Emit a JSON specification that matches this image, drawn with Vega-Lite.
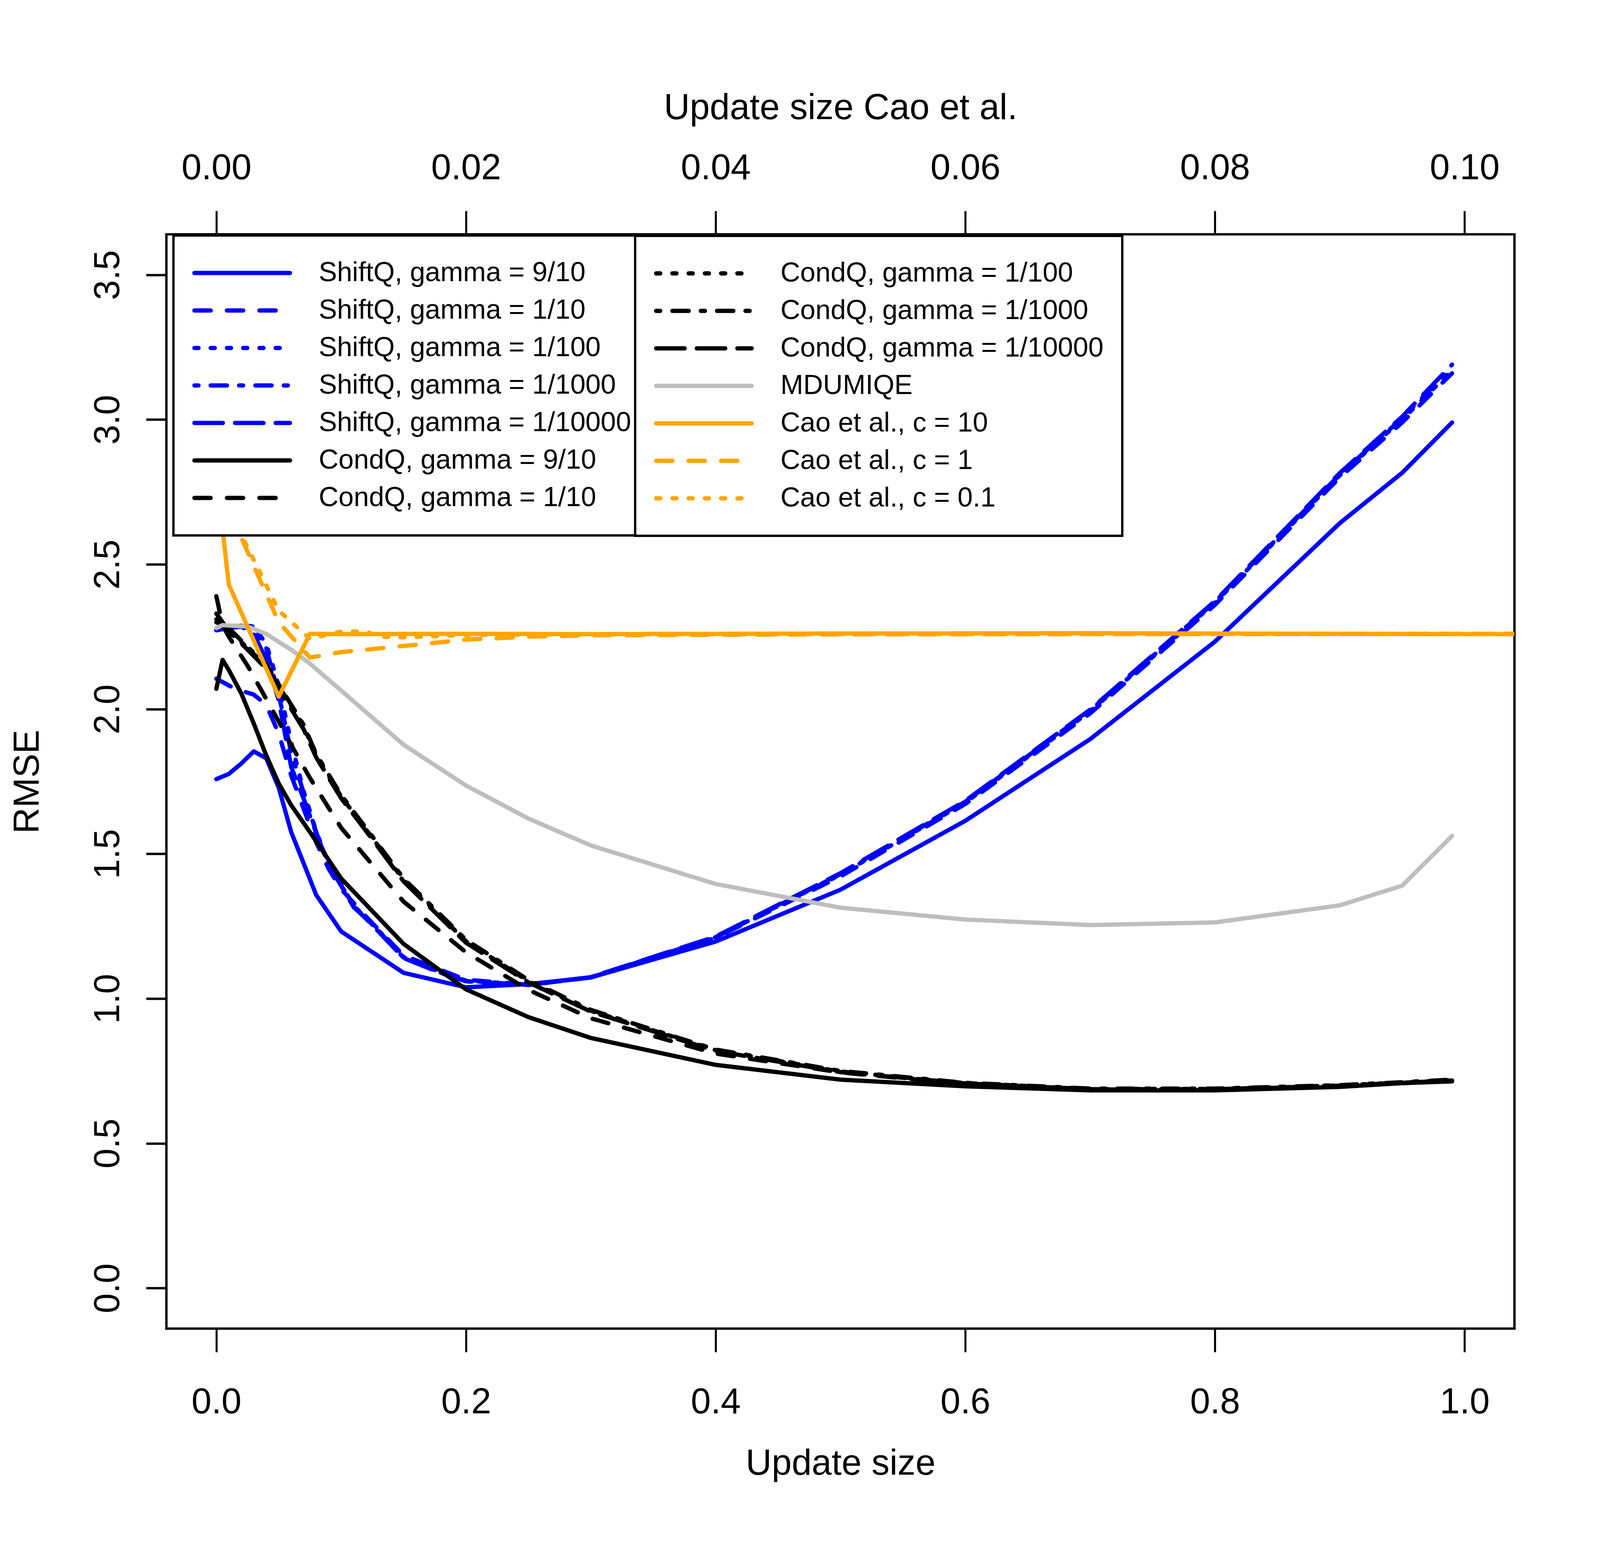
{
  "$schema": "https://vega.github.io/schema/vega-lite/v6.json",
  "width": 3451,
  "height": 2802,
  "autosize": {"type": "none"},
  "padding": {"left": 426, "top": 600, "right": 219, "bottom": 613},
  "background": "white",
  "config": {
    "view": {"stroke": "black", "strokeWidth": 6},
    "axis": {
      "grid": false, "domain": false,
      "tickColor": "black", "tickWidth": 5.2, "tickSize": 60,
      "labelFont": "Liberation Sans", "labelFontSize": 92, "labelColor": "black", "labelLimit": 1000,
      "titleFont": "Liberation Sans", "titleFontSize": 92, "titleFontWeight": "normal", "titleColor": "black", "titleLimit": 3000,
      "labelFlush": false, "labelOverlap": false,
      "labelBaseline": "alphabetic", "titleBaseline": "alphabetic", "titleAlign": "center"
    },
    "legend": {
      "orient": "none",
      "labelFont": "Liberation Sans", "labelFontSize": 70, "labelColor": "black", "labelLimit": 3000,
      "symbolType": "stroke", "symbolSize": 59780, "symbolStrokeWidth": 11,
      "clipHeight": 96, "rowPadding": 0, "labelOffset": 68, "padding": 48,
      "strokeColor": "black", "fillColor": "white"
    }
  },
  "datasets": {
    "left": [
      {"series": "ShiftQ, gamma = 9/10", "size": 0, "rmse": 1.758},
      {"series": "ShiftQ, gamma = 9/10", "size": 0.01, "rmse": 1.776},
      {"series": "ShiftQ, gamma = 9/10", "size": 0.02, "rmse": 1.812},
      {"series": "ShiftQ, gamma = 9/10", "size": 0.03, "rmse": 1.854},
      {"series": "ShiftQ, gamma = 9/10", "size": 0.04, "rmse": 1.83},
      {"series": "ShiftQ, gamma = 9/10", "size": 0.05, "rmse": 1.728},
      {"series": "ShiftQ, gamma = 9/10", "size": 0.06, "rmse": 1.575},
      {"series": "ShiftQ, gamma = 9/10", "size": 0.08, "rmse": 1.358},
      {"series": "ShiftQ, gamma = 9/10", "size": 0.1, "rmse": 1.232},
      {"series": "ShiftQ, gamma = 9/10", "size": 0.15, "rmse": 1.089},
      {"series": "ShiftQ, gamma = 9/10", "size": 0.2, "rmse": 1.039},
      {"series": "ShiftQ, gamma = 9/10", "size": 0.25, "rmse": 1.05},
      {"series": "ShiftQ, gamma = 9/10", "size": 0.3, "rmse": 1.073},
      {"series": "ShiftQ, gamma = 9/10", "size": 0.4, "rmse": 1.197},
      {"series": "ShiftQ, gamma = 9/10", "size": 0.5, "rmse": 1.376},
      {"series": "ShiftQ, gamma = 9/10", "size": 0.6, "rmse": 1.614},
      {"series": "ShiftQ, gamma = 9/10", "size": 0.7, "rmse": 1.896},
      {"series": "ShiftQ, gamma = 9/10", "size": 0.8, "rmse": 2.233},
      {"series": "ShiftQ, gamma = 9/10", "size": 0.9, "rmse": 2.642},
      {"series": "ShiftQ, gamma = 9/10", "size": 0.95, "rmse": 2.816},
      {"series": "ShiftQ, gamma = 9/10", "size": 0.99, "rmse": 2.99},

      {"series": "ShiftQ, gamma = 1/10", "size": 0, "rmse": 2.105},
      {"series": "ShiftQ, gamma = 1/10", "size": 0.015, "rmse": 2.07},
      {"series": "ShiftQ, gamma = 1/10", "size": 0.03, "rmse": 2.05},
      {"series": "ShiftQ, gamma = 1/10", "size": 0.04, "rmse": 2.015},
      {"series": "ShiftQ, gamma = 1/10", "size": 0.045, "rmse": 1.965},
      {"series": "ShiftQ, gamma = 1/10", "size": 0.05, "rmse": 1.915},
      {"series": "ShiftQ, gamma = 1/10", "size": 0.06, "rmse": 1.77},
      {"series": "ShiftQ, gamma = 1/10", "size": 0.07, "rmse": 1.655},
      {"series": "ShiftQ, gamma = 1/10", "size": 0.08, "rmse": 1.54},
      {"series": "ShiftQ, gamma = 1/10", "size": 0.09, "rmse": 1.448},
      {"series": "ShiftQ, gamma = 1/10", "size": 0.1, "rmse": 1.378},
      {"series": "ShiftQ, gamma = 1/10", "size": 0.12, "rmse": 1.283},
      {"series": "ShiftQ, gamma = 1/10", "size": 0.15, "rmse": 1.149},
      {"series": "ShiftQ, gamma = 1/10", "size": 0.2, "rmse": 1.065},
      {"series": "ShiftQ, gamma = 1/10", "size": 0.25, "rmse": 1.048},
      {"series": "ShiftQ, gamma = 1/10", "size": 0.3, "rmse": 1.073},
      {"series": "ShiftQ, gamma = 1/10", "size": 0.4, "rmse": 1.21},
      {"series": "ShiftQ, gamma = 1/10", "size": 0.5, "rmse": 1.422},
      {"series": "ShiftQ, gamma = 1/10", "size": 0.6, "rmse": 1.672},
      {"series": "ShiftQ, gamma = 1/10", "size": 0.7, "rmse": 1.985},
      {"series": "ShiftQ, gamma = 1/10", "size": 0.8, "rmse": 2.36},
      {"series": "ShiftQ, gamma = 1/10", "size": 0.9, "rmse": 2.8},
      {"series": "ShiftQ, gamma = 1/10", "size": 0.95, "rmse": 2.99},
      {"series": "ShiftQ, gamma = 1/10", "size": 0.99, "rmse": 3.16},

      {"series": "ShiftQ, gamma = 1/100", "size": 0, "rmse": 2.275},
      {"series": "ShiftQ, gamma = 1/100", "size": 0.01, "rmse": 2.285},
      {"series": "ShiftQ, gamma = 1/100", "size": 0.02, "rmse": 2.29},
      {"series": "ShiftQ, gamma = 1/100", "size": 0.03, "rmse": 2.285},
      {"series": "ShiftQ, gamma = 1/100", "size": 0.04, "rmse": 2.225},
      {"series": "ShiftQ, gamma = 1/100", "size": 0.05, "rmse": 2.08},
      {"series": "ShiftQ, gamma = 1/100", "size": 0.06, "rmse": 1.885},
      {"series": "ShiftQ, gamma = 1/100", "size": 0.07, "rmse": 1.715},
      {"series": "ShiftQ, gamma = 1/100", "size": 0.08, "rmse": 1.578},
      {"series": "ShiftQ, gamma = 1/100", "size": 0.09, "rmse": 1.465},
      {"series": "ShiftQ, gamma = 1/100", "size": 0.1, "rmse": 1.395},
      {"series": "ShiftQ, gamma = 1/100", "size": 0.11, "rmse": 1.32},
      {"series": "ShiftQ, gamma = 1/100", "size": 0.12, "rmse": 1.28},
      {"series": "ShiftQ, gamma = 1/100", "size": 0.14, "rmse": 1.19},
      {"series": "ShiftQ, gamma = 1/100", "size": 0.15, "rmse": 1.143},
      {"series": "ShiftQ, gamma = 1/100", "size": 0.18, "rmse": 1.09},
      {"series": "ShiftQ, gamma = 1/100", "size": 0.2, "rmse": 1.062},
      {"series": "ShiftQ, gamma = 1/100", "size": 0.25, "rmse": 1.048},
      {"series": "ShiftQ, gamma = 1/100", "size": 0.3, "rmse": 1.074},
      {"series": "ShiftQ, gamma = 1/100", "size": 0.4, "rmse": 1.212},
      {"series": "ShiftQ, gamma = 1/100", "size": 0.5, "rmse": 1.428},
      {"series": "ShiftQ, gamma = 1/100", "size": 0.6, "rmse": 1.677},
      {"series": "ShiftQ, gamma = 1/100", "size": 0.7, "rmse": 1.992},
      {"series": "ShiftQ, gamma = 1/100", "size": 0.8, "rmse": 2.367},
      {"series": "ShiftQ, gamma = 1/100", "size": 0.9, "rmse": 2.807},
      {"series": "ShiftQ, gamma = 1/100", "size": 0.95, "rmse": 3.0},
      {"series": "ShiftQ, gamma = 1/100", "size": 0.99, "rmse": 3.17},

      {"series": "ShiftQ, gamma = 1/1000", "size": 0, "rmse": 2.275},
      {"series": "ShiftQ, gamma = 1/1000", "size": 0.01, "rmse": 2.283},
      {"series": "ShiftQ, gamma = 1/1000", "size": 0.02, "rmse": 2.288},
      {"series": "ShiftQ, gamma = 1/1000", "size": 0.03, "rmse": 2.275},
      {"series": "ShiftQ, gamma = 1/1000", "size": 0.04, "rmse": 2.21},
      {"series": "ShiftQ, gamma = 1/1000", "size": 0.05, "rmse": 2.05},
      {"series": "ShiftQ, gamma = 1/1000", "size": 0.06, "rmse": 1.85},
      {"series": "ShiftQ, gamma = 1/1000", "size": 0.07, "rmse": 1.71},
      {"series": "ShiftQ, gamma = 1/1000", "size": 0.08, "rmse": 1.575},
      {"series": "ShiftQ, gamma = 1/1000", "size": 0.09, "rmse": 1.462},
      {"series": "ShiftQ, gamma = 1/1000", "size": 0.1, "rmse": 1.392},
      {"series": "ShiftQ, gamma = 1/1000", "size": 0.11, "rmse": 1.318},
      {"series": "ShiftQ, gamma = 1/1000", "size": 0.12, "rmse": 1.278},
      {"series": "ShiftQ, gamma = 1/1000", "size": 0.14, "rmse": 1.188},
      {"series": "ShiftQ, gamma = 1/1000", "size": 0.15, "rmse": 1.141},
      {"series": "ShiftQ, gamma = 1/1000", "size": 0.18, "rmse": 1.089},
      {"series": "ShiftQ, gamma = 1/1000", "size": 0.2, "rmse": 1.06},
      {"series": "ShiftQ, gamma = 1/1000", "size": 0.25, "rmse": 1.047},
      {"series": "ShiftQ, gamma = 1/1000", "size": 0.3, "rmse": 1.073},
      {"series": "ShiftQ, gamma = 1/1000", "size": 0.4, "rmse": 1.212},
      {"series": "ShiftQ, gamma = 1/1000", "size": 0.5, "rmse": 1.43},
      {"series": "ShiftQ, gamma = 1/1000", "size": 0.6, "rmse": 1.68},
      {"series": "ShiftQ, gamma = 1/1000", "size": 0.7, "rmse": 1.995},
      {"series": "ShiftQ, gamma = 1/1000", "size": 0.8, "rmse": 2.37},
      {"series": "ShiftQ, gamma = 1/1000", "size": 0.9, "rmse": 2.81},
      {"series": "ShiftQ, gamma = 1/1000", "size": 0.95, "rmse": 3.005},
      {"series": "ShiftQ, gamma = 1/1000", "size": 0.99, "rmse": 3.18},

      {"series": "ShiftQ, gamma = 1/10000", "size": 0, "rmse": 2.272},
      {"series": "ShiftQ, gamma = 1/10000", "size": 0.01, "rmse": 2.28},
      {"series": "ShiftQ, gamma = 1/10000", "size": 0.02, "rmse": 2.285},
      {"series": "ShiftQ, gamma = 1/10000", "size": 0.03, "rmse": 2.26},
      {"series": "ShiftQ, gamma = 1/10000", "size": 0.04, "rmse": 2.17},
      {"series": "ShiftQ, gamma = 1/10000", "size": 0.05, "rmse": 2.03},
      {"series": "ShiftQ, gamma = 1/10000", "size": 0.06, "rmse": 1.8},
      {"series": "ShiftQ, gamma = 1/10000", "size": 0.07, "rmse": 1.69},
      {"series": "ShiftQ, gamma = 1/10000", "size": 0.08, "rmse": 1.572},
      {"series": "ShiftQ, gamma = 1/10000", "size": 0.09, "rmse": 1.46},
      {"series": "ShiftQ, gamma = 1/10000", "size": 0.1, "rmse": 1.39},
      {"series": "ShiftQ, gamma = 1/10000", "size": 0.11, "rmse": 1.316},
      {"series": "ShiftQ, gamma = 1/10000", "size": 0.12, "rmse": 1.276},
      {"series": "ShiftQ, gamma = 1/10000", "size": 0.14, "rmse": 1.186},
      {"series": "ShiftQ, gamma = 1/10000", "size": 0.15, "rmse": 1.14},
      {"series": "ShiftQ, gamma = 1/10000", "size": 0.18, "rmse": 1.088},
      {"series": "ShiftQ, gamma = 1/10000", "size": 0.2, "rmse": 1.06},
      {"series": "ShiftQ, gamma = 1/10000", "size": 0.25, "rmse": 1.047},
      {"series": "ShiftQ, gamma = 1/10000", "size": 0.3, "rmse": 1.074},
      {"series": "ShiftQ, gamma = 1/10000", "size": 0.4, "rmse": 1.214},
      {"series": "ShiftQ, gamma = 1/10000", "size": 0.5, "rmse": 1.433},
      {"series": "ShiftQ, gamma = 1/10000", "size": 0.6, "rmse": 1.683},
      {"series": "ShiftQ, gamma = 1/10000", "size": 0.7, "rmse": 1.998},
      {"series": "ShiftQ, gamma = 1/10000", "size": 0.8, "rmse": 2.373},
      {"series": "ShiftQ, gamma = 1/10000", "size": 0.9, "rmse": 2.815},
      {"series": "ShiftQ, gamma = 1/10000", "size": 0.95, "rmse": 3.01},
      {"series": "ShiftQ, gamma = 1/10000", "size": 0.99, "rmse": 3.19},

      {"series": "CondQ, gamma = 9/10", "size": 0, "rmse": 2.07},
      {"series": "CondQ, gamma = 9/10", "size": 0.005, "rmse": 2.17},
      {"series": "CondQ, gamma = 9/10", "size": 0.01, "rmse": 2.135},
      {"series": "CondQ, gamma = 9/10", "size": 0.02, "rmse": 2.054},
      {"series": "CondQ, gamma = 9/10", "size": 0.03, "rmse": 1.95},
      {"series": "CondQ, gamma = 9/10", "size": 0.04, "rmse": 1.84},
      {"series": "CondQ, gamma = 9/10", "size": 0.05, "rmse": 1.743},
      {"series": "CondQ, gamma = 9/10", "size": 0.06, "rmse": 1.668},
      {"series": "CondQ, gamma = 9/10", "size": 0.075, "rmse": 1.575},
      {"series": "CondQ, gamma = 9/10", "size": 0.1, "rmse": 1.415},
      {"series": "CondQ, gamma = 9/10", "size": 0.15, "rmse": 1.189},
      {"series": "CondQ, gamma = 9/10", "size": 0.2, "rmse": 1.032},
      {"series": "CondQ, gamma = 9/10", "size": 0.25, "rmse": 0.936},
      {"series": "CondQ, gamma = 9/10", "size": 0.3, "rmse": 0.864},
      {"series": "CondQ, gamma = 9/10", "size": 0.4, "rmse": 0.771},
      {"series": "CondQ, gamma = 9/10", "size": 0.5, "rmse": 0.72},
      {"series": "CondQ, gamma = 9/10", "size": 0.6, "rmse": 0.697},
      {"series": "CondQ, gamma = 9/10", "size": 0.7, "rmse": 0.683},
      {"series": "CondQ, gamma = 9/10", "size": 0.8, "rmse": 0.683},
      {"series": "CondQ, gamma = 9/10", "size": 0.9, "rmse": 0.695},
      {"series": "CondQ, gamma = 9/10", "size": 0.95, "rmse": 0.708},
      {"series": "CondQ, gamma = 9/10", "size": 0.99, "rmse": 0.714},

      {"series": "CondQ, gamma = 1/10", "size": 0, "rmse": 2.39},
      {"series": "CondQ, gamma = 1/10", "size": 0.005, "rmse": 2.29},
      {"series": "CondQ, gamma = 1/10", "size": 0.01, "rmse": 2.25},
      {"series": "CondQ, gamma = 1/10", "size": 0.025, "rmse": 2.15},
      {"series": "CondQ, gamma = 1/10", "size": 0.04, "rmse": 2.035},
      {"series": "CondQ, gamma = 1/10", "size": 0.05, "rmse": 1.957},
      {"series": "CondQ, gamma = 1/10", "size": 0.06, "rmse": 1.876},
      {"series": "CondQ, gamma = 1/10", "size": 0.075, "rmse": 1.762},
      {"series": "CondQ, gamma = 1/10", "size": 0.1, "rmse": 1.59},
      {"series": "CondQ, gamma = 1/10", "size": 0.15, "rmse": 1.335},
      {"series": "CondQ, gamma = 1/10", "size": 0.2, "rmse": 1.16},
      {"series": "CondQ, gamma = 1/10", "size": 0.25, "rmse": 1.03},
      {"series": "CondQ, gamma = 1/10", "size": 0.3, "rmse": 0.932},
      {"series": "CondQ, gamma = 1/10", "size": 0.4, "rmse": 0.81},
      {"series": "CondQ, gamma = 1/10", "size": 0.5, "rmse": 0.745},
      {"series": "CondQ, gamma = 1/10", "size": 0.6, "rmse": 0.705},
      {"series": "CondQ, gamma = 1/10", "size": 0.7, "rmse": 0.686},
      {"series": "CondQ, gamma = 1/10", "size": 0.8, "rmse": 0.686},
      {"series": "CondQ, gamma = 1/10", "size": 0.9, "rmse": 0.698},
      {"series": "CondQ, gamma = 1/10", "size": 0.95, "rmse": 0.708},
      {"series": "CondQ, gamma = 1/10", "size": 0.99, "rmse": 0.716}
    ],
    "right": [
      {"series": "CondQ, gamma = 1/100", "size": 0, "rmse": 2.3},
      {"series": "CondQ, gamma = 1/100", "size": 0.005, "rmse": 2.29},
      {"series": "CondQ, gamma = 1/100", "size": 0.01, "rmse": 2.275},
      {"series": "CondQ, gamma = 1/100", "size": 0.025, "rmse": 2.21},
      {"series": "CondQ, gamma = 1/100", "size": 0.04, "rmse": 2.15},
      {"series": "CondQ, gamma = 1/100", "size": 0.05, "rmse": 2.08},
      {"series": "CondQ, gamma = 1/100", "size": 0.06, "rmse": 2.01},
      {"series": "CondQ, gamma = 1/100", "size": 0.07, "rmse": 1.94},
      {"series": "CondQ, gamma = 1/100", "size": 0.08, "rmse": 1.84},
      {"series": "CondQ, gamma = 1/100", "size": 0.1, "rmse": 1.698},
      {"series": "CondQ, gamma = 1/100", "size": 0.125, "rmse": 1.555},
      {"series": "CondQ, gamma = 1/100", "size": 0.15, "rmse": 1.41},
      {"series": "CondQ, gamma = 1/100", "size": 0.2, "rmse": 1.198},
      {"series": "CondQ, gamma = 1/100", "size": 0.25, "rmse": 1.06},
      {"series": "CondQ, gamma = 1/100", "size": 0.3, "rmse": 0.958},
      {"series": "CondQ, gamma = 1/100", "size": 0.35, "rmse": 0.89},
      {"series": "CondQ, gamma = 1/100", "size": 0.4, "rmse": 0.822},
      {"series": "CondQ, gamma = 1/100", "size": 0.5, "rmse": 0.748},
      {"series": "CondQ, gamma = 1/100", "size": 0.6, "rmse": 0.708},
      {"series": "CondQ, gamma = 1/100", "size": 0.7, "rmse": 0.688},
      {"series": "CondQ, gamma = 1/100", "size": 0.8, "rmse": 0.688},
      {"series": "CondQ, gamma = 1/100", "size": 0.9, "rmse": 0.7},
      {"series": "CondQ, gamma = 1/100", "size": 0.95, "rmse": 0.71},
      {"series": "CondQ, gamma = 1/100", "size": 0.99, "rmse": 0.718},

      {"series": "CondQ, gamma = 1/1000", "size": 0, "rmse": 2.31},
      {"series": "CondQ, gamma = 1/1000", "size": 0.005, "rmse": 2.295},
      {"series": "CondQ, gamma = 1/1000", "size": 0.01, "rmse": 2.28},
      {"series": "CondQ, gamma = 1/1000", "size": 0.025, "rmse": 2.215},
      {"series": "CondQ, gamma = 1/1000", "size": 0.04, "rmse": 2.155},
      {"series": "CondQ, gamma = 1/1000", "size": 0.05, "rmse": 2.085},
      {"series": "CondQ, gamma = 1/1000", "size": 0.06, "rmse": 2.015},
      {"series": "CondQ, gamma = 1/1000", "size": 0.07, "rmse": 1.945},
      {"series": "CondQ, gamma = 1/1000", "size": 0.08, "rmse": 1.845},
      {"series": "CondQ, gamma = 1/1000", "size": 0.1, "rmse": 1.703},
      {"series": "CondQ, gamma = 1/1000", "size": 0.125, "rmse": 1.56},
      {"series": "CondQ, gamma = 1/1000", "size": 0.15, "rmse": 1.415},
      {"series": "CondQ, gamma = 1/1000", "size": 0.2, "rmse": 1.203},
      {"series": "CondQ, gamma = 1/1000", "size": 0.25, "rmse": 1.064},
      {"series": "CondQ, gamma = 1/1000", "size": 0.3, "rmse": 0.961},
      {"series": "CondQ, gamma = 1/1000", "size": 0.35, "rmse": 0.892},
      {"series": "CondQ, gamma = 1/1000", "size": 0.4, "rmse": 0.824},
      {"series": "CondQ, gamma = 1/1000", "size": 0.5, "rmse": 0.75},
      {"series": "CondQ, gamma = 1/1000", "size": 0.6, "rmse": 0.709},
      {"series": "CondQ, gamma = 1/1000", "size": 0.7, "rmse": 0.689},
      {"series": "CondQ, gamma = 1/1000", "size": 0.8, "rmse": 0.689},
      {"series": "CondQ, gamma = 1/1000", "size": 0.9, "rmse": 0.701},
      {"series": "CondQ, gamma = 1/1000", "size": 0.95, "rmse": 0.711},
      {"series": "CondQ, gamma = 1/1000", "size": 0.99, "rmse": 0.72},

      {"series": "CondQ, gamma = 1/10000", "size": 0, "rmse": 2.33},
      {"series": "CondQ, gamma = 1/10000", "size": 0.005, "rmse": 2.3},
      {"series": "CondQ, gamma = 1/10000", "size": 0.01, "rmse": 2.27},
      {"series": "CondQ, gamma = 1/10000", "size": 0.025, "rmse": 2.205},
      {"series": "CondQ, gamma = 1/10000", "size": 0.04, "rmse": 2.14},
      {"series": "CondQ, gamma = 1/10000", "size": 0.05, "rmse": 2.07},
      {"series": "CondQ, gamma = 1/10000", "size": 0.06, "rmse": 2.0},
      {"series": "CondQ, gamma = 1/10000", "size": 0.07, "rmse": 1.93},
      {"series": "CondQ, gamma = 1/10000", "size": 0.08, "rmse": 1.833},
      {"series": "CondQ, gamma = 1/10000", "size": 0.1, "rmse": 1.692},
      {"series": "CondQ, gamma = 1/10000", "size": 0.125, "rmse": 1.55},
      {"series": "CondQ, gamma = 1/10000", "size": 0.15, "rmse": 1.405},
      {"series": "CondQ, gamma = 1/10000", "size": 0.2, "rmse": 1.193},
      {"series": "CondQ, gamma = 1/10000", "size": 0.25, "rmse": 1.056},
      {"series": "CondQ, gamma = 1/10000", "size": 0.3, "rmse": 0.955},
      {"series": "CondQ, gamma = 1/10000", "size": 0.35, "rmse": 0.887},
      {"series": "CondQ, gamma = 1/10000", "size": 0.4, "rmse": 0.819},
      {"series": "CondQ, gamma = 1/10000", "size": 0.5, "rmse": 0.746},
      {"series": "CondQ, gamma = 1/10000", "size": 0.6, "rmse": 0.707},
      {"series": "CondQ, gamma = 1/10000", "size": 0.7, "rmse": 0.687},
      {"series": "CondQ, gamma = 1/10000", "size": 0.8, "rmse": 0.687},
      {"series": "CondQ, gamma = 1/10000", "size": 0.9, "rmse": 0.699},
      {"series": "CondQ, gamma = 1/10000", "size": 0.95, "rmse": 0.709},
      {"series": "CondQ, gamma = 1/10000", "size": 0.99, "rmse": 0.717},

      {"series": "MDUMIQE", "size": 0, "rmse": 2.28},
      {"series": "MDUMIQE", "size": 0.005, "rmse": 2.29},
      {"series": "MDUMIQE", "size": 0.025, "rmse": 2.285},
      {"series": "MDUMIQE", "size": 0.04, "rmse": 2.26},
      {"series": "MDUMIQE", "size": 0.05, "rmse": 2.232},
      {"series": "MDUMIQE", "size": 0.06, "rmse": 2.205},
      {"series": "MDUMIQE", "size": 0.075, "rmse": 2.157},
      {"series": "MDUMIQE", "size": 0.1, "rmse": 2.064},
      {"series": "MDUMIQE", "size": 0.15, "rmse": 1.877},
      {"series": "MDUMIQE", "size": 0.2, "rmse": 1.736},
      {"series": "MDUMIQE", "size": 0.25, "rmse": 1.622},
      {"series": "MDUMIQE", "size": 0.3, "rmse": 1.529},
      {"series": "MDUMIQE", "size": 0.4, "rmse": 1.396},
      {"series": "MDUMIQE", "size": 0.5, "rmse": 1.314},
      {"series": "MDUMIQE", "size": 0.6, "rmse": 1.273},
      {"series": "MDUMIQE", "size": 0.7, "rmse": 1.254},
      {"series": "MDUMIQE", "size": 0.8, "rmse": 1.263},
      {"series": "MDUMIQE", "size": 0.9, "rmse": 1.322},
      {"series": "MDUMIQE", "size": 0.95, "rmse": 1.39},
      {"series": "MDUMIQE", "size": 0.99, "rmse": 1.562},

      {"series": "Cao et al., c = 10", "size": 0, "rmse": 2.81},
      {"series": "Cao et al., c = 10", "size": 0.01, "rmse": 2.43},
      {"series": "Cao et al., c = 10", "size": 0.05, "rmse": 2.043},
      {"series": "Cao et al., c = 10", "size": 0.075, "rmse": 2.26},
      {"series": "Cao et al., c = 10", "size": 0.1, "rmse": 2.259},
      {"series": "Cao et al., c = 10", "size": 0.2, "rmse": 2.26},
      {"series": "Cao et al., c = 10", "size": 0.3, "rmse": 2.259},
      {"series": "Cao et al., c = 10", "size": 0.5, "rmse": 2.261},
      {"series": "Cao et al., c = 10", "size": 0.7, "rmse": 2.262},
      {"series": "Cao et al., c = 10", "size": 0.9, "rmse": 2.26},
      {"series": "Cao et al., c = 10", "size": 1.0, "rmse": 2.259},
      {"series": "Cao et al., c = 10", "size": 1.2, "rmse": 2.259},

      {"series": "Cao et al., c = 1", "size": 0, "rmse": 2.79},
      {"series": "Cao et al., c = 1", "size": 0.01, "rmse": 2.69},
      {"series": "Cao et al., c = 1", "size": 0.05, "rmse": 2.3},
      {"series": "Cao et al., c = 1", "size": 0.075, "rmse": 2.178},
      {"series": "Cao et al., c = 1", "size": 0.1, "rmse": 2.197},
      {"series": "Cao et al., c = 1", "size": 0.15, "rmse": 2.218},
      {"series": "Cao et al., c = 1", "size": 0.2, "rmse": 2.24},
      {"series": "Cao et al., c = 1", "size": 0.25, "rmse": 2.25},
      {"series": "Cao et al., c = 1", "size": 0.3, "rmse": 2.255},
      {"series": "Cao et al., c = 1", "size": 0.5, "rmse": 2.258},
      {"series": "Cao et al., c = 1", "size": 1.0, "rmse": 2.26},
      {"series": "Cao et al., c = 1", "size": 1.2, "rmse": 2.26},

      {"series": "Cao et al., c = 0.1", "size": 0, "rmse": 2.78},
      {"series": "Cao et al., c = 0.1", "size": 0.01, "rmse": 2.69},
      {"series": "Cao et al., c = 0.1", "size": 0.05, "rmse": 2.34},
      {"series": "Cao et al., c = 0.1", "size": 0.075, "rmse": 2.243},
      {"series": "Cao et al., c = 0.1", "size": 0.1, "rmse": 2.268},
      {"series": "Cao et al., c = 0.1", "size": 0.12, "rmse": 2.268},
      {"series": "Cao et al., c = 0.1", "size": 0.13, "rmse": 2.25},
      {"series": "Cao et al., c = 0.1", "size": 0.15, "rmse": 2.248},
      {"series": "Cao et al., c = 0.1", "size": 0.2, "rmse": 2.256},
      {"series": "Cao et al., c = 0.1", "size": 0.3, "rmse": 2.258},
      {"series": "Cao et al., c = 0.1", "size": 0.5, "rmse": 2.259},
      {"series": "Cao et al., c = 0.1", "size": 1.0, "rmse": 2.26},
      {"series": "Cao et al., c = 0.1", "size": 1.2, "rmse": 2.26}
    ]
  },
  "layer": [
    {
      "data": {"name": "left"},
      "mark": {"type": "line", "clip": true, "strokeWidth": 11, "strokeCap": "round", "strokeJoin": "round"},
      "encoding": {
        "x": {
          "field": "size", "type": "quantitative",
          "scale": {"domain": [-0.04, 1.04], "nice": false, "zero": false},
          "axis": {
            "orient": "bottom", "title": "Update size",
            "values": [0, 0.2, 0.4, 0.6, 0.8, 1], "format": ".1f",
            "labelPadding": 156, "titleX": 1725.5, "titleY": 373
          }
        },
        "y": {
          "field": "rmse", "type": "quantitative",
          "scale": {"domain": [-0.14, 3.64], "nice": false, "zero": false},
          "axis": {
            "title": "RMSE",
            "values": [0, 0.5, 1, 1.5, 2, 2.5, 3, 3.5], "format": ".1f",
            "tickSize": 52, "tickWidth": 6,
            "labelAngle": 270, "labelAlign": "center", "labelPadding": 70,
            "titleAngle": 270, "titleX": -328, "titleY": 1401
          }
        },
        "color": {
          "field": "series", "type": "nominal",
          "scale": {
            "domain": ["ShiftQ, gamma = 9/10", "ShiftQ, gamma = 1/10", "ShiftQ, gamma = 1/100", "ShiftQ, gamma = 1/1000", "ShiftQ, gamma = 1/10000", "CondQ, gamma = 9/10", "CondQ, gamma = 1/10"],
            "range": ["#0000ff", "#0000ff", "#0000ff", "#0000ff", "#0000ff", "#000000", "#000000"]
          },
          "legend": {
            "title": null, "legendX": 18, "legendY": 3,
            "encode": {"legend": {"update": {"strokeWidth": {"value": 6}}}, "symbols": {"update": {"strokeCap": {"value": "round"}}}}
          }
        },
        "strokeDash": {
          "field": "series", "type": "nominal",
          "scale": {
            "domain": ["ShiftQ, gamma = 9/10", "ShiftQ, gamma = 1/10", "ShiftQ, gamma = 1/100", "ShiftQ, gamma = 1/1000", "ShiftQ, gamma = 1/10000", "CondQ, gamma = 9/10", "CondQ, gamma = 1/10"],
            "range": [[1, 0], [41.6, 41.6], [10.4, 31.2], [10.4, 31.2, 41.6, 31.2], [72.8, 31.2], [1, 0], [41.6, 41.6]]
          },
          "legend": {
            "title": null, "legendX": 18, "legendY": 3,
            "encode": {"legend": {"update": {"strokeWidth": {"value": 6}}}, "symbols": {"update": {"strokeCap": {"value": "round"}}}}
          }
        }
      }
    },
    {
      "data": {"name": "right"},
      "mark": {"type": "line", "clip": true, "strokeWidth": 11, "strokeCap": "round", "strokeJoin": "round"},
      "encoding": {
        "x": {
          "field": "size", "type": "quantitative",
          "scale": {"domain": [-0.04, 1.04], "nice": false, "zero": false},
          "axis": {
            "orient": "top", "title": "Update size Cao et al.",
            "values": [0, 0.2, 0.4, 0.6, 0.8, 1],
            "labelExpr": "format(datum.value / 10, '.2f')",
            "labelPadding": 82, "titleX": 1725.5, "titleY": -296
          }
        },
        "y": {
          "field": "rmse", "type": "quantitative",
          "scale": {"domain": [-0.14, 3.64], "nice": false, "zero": false},
          "axis": null
        },
        "color": {
          "field": "series", "type": "nominal",
          "scale": {
            "domain": ["CondQ, gamma = 1/100", "CondQ, gamma = 1/1000", "CondQ, gamma = 1/10000", "MDUMIQE", "Cao et al., c = 10", "Cao et al., c = 1", "Cao et al., c = 0.1"],
            "range": ["#000000", "#000000", "#000000", "#bebebe", "#ffa500", "#ffa500", "#ffa500"]
          },
          "legend": {
            "title": null, "legendX": 1200, "legendY": 4,
            "encode": {"legend": {"update": {"strokeWidth": {"value": 6}}}, "symbols": {"update": {"strokeCap": {"value": "round"}}}}
          }
        },
        "strokeDash": {
          "field": "series", "type": "nominal",
          "scale": {
            "domain": ["CondQ, gamma = 1/100", "CondQ, gamma = 1/1000", "CondQ, gamma = 1/10000", "MDUMIQE", "Cao et al., c = 10", "Cao et al., c = 1", "Cao et al., c = 0.1"],
            "range": [[10.4, 31.2], [10.4, 31.2, 41.6, 31.2], [72.8, 31.2], [1, 0], [1, 0], [41.6, 41.6], [10.4, 31.2]]
          },
          "legend": {
            "title": null, "legendX": 1200, "legendY": 4,
            "encode": {"legend": {"update": {"strokeWidth": {"value": 6}}}, "symbols": {"update": {"strokeCap": {"value": "round"}}}}
          }
        }
      }
    }
  ],
  "resolve": {
    "scale": {"color": "independent", "strokeDash": "independent"},
    "axis": {"x": "independent", "y": "independent"}
  }
}
